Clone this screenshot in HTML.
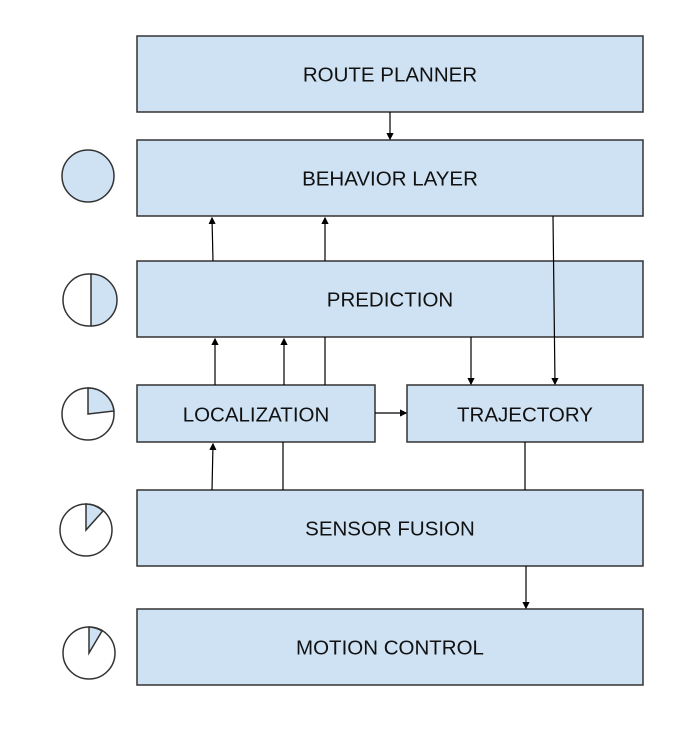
<!DOCTYPE html>
<html><head><meta charset="utf-8"><style>
body{margin:0;background:#fff}
svg text{font-family:"Liberation Sans",Arial,sans-serif;font-size:20.5px;fill:#111;text-anchor:middle;dominant-baseline:central}
</style></head><body>
<svg width="696" height="734" viewBox="0 0 696 734" xmlns="http://www.w3.org/2000/svg">
<defs>
<marker id="d" markerWidth="6" markerHeight="6" refX="5" refY="3" orient="auto" viewBox="0 0 6 6"><path d="M0,0 L6,3 L0,6 z" fill="#000"/></marker></defs>
<g fill="#cfe2f3" stroke="#333" stroke-width="1.5">
<rect x="137" y="36" width="506" height="76"/>
<rect x="137" y="140" width="506" height="76"/>
<rect x="137" y="261" width="506" height="76"/>
<rect x="137" y="385" width="238" height="57"/>
<rect x="407" y="385" width="236" height="57"/>
<rect x="137" y="490" width="506" height="76"/>
<rect x="137" y="609" width="506" height="76"/>
</g>
<text x="390" y="75">ROUTE PLANNER</text>
<text x="390" y="179">BEHAVIOR LAYER</text>
<text x="390" y="300">PREDICTION</text>
<text x="256" y="415">LOCALIZATION</text>
<text x="525" y="415">TRAJECTORY</text>
<text x="390" y="529">SENSOR FUSION</text>
<text x="390" y="648">MOTION CONTROL</text>
<g stroke="#000" stroke-width="1.2" fill="none">
<line x1="390" y1="112" x2="390" y2="139" marker-end="url(#d)"/>
<line x1="213" y1="261" x2="212" y2="218" marker-end="url(#d)"/>
<line x1="325" y1="261" x2="325" y2="218" marker-end="url(#d)"/>
<line x1="553" y1="216" x2="555" y2="384" marker-end="url(#d)"/>
<line x1="471" y1="337" x2="471" y2="384" marker-end="url(#d)"/>
<line x1="215" y1="385" x2="215" y2="339" marker-end="url(#d)"/>
<line x1="284" y1="385" x2="284" y2="339" marker-end="url(#d)"/>
<line x1="325" y1="385" x2="325" y2="337"/>
<line x1="375" y1="413" x2="406" y2="413" marker-end="url(#d)"/>
<line x1="212" y1="490" x2="213" y2="444" marker-end="url(#d)"/>
<line x1="283" y1="490" x2="283" y2="442"/>
<line x1="525" y1="442" x2="525" y2="490"/>
<line x1="526" y1="566" x2="526" y2="608" marker-end="url(#d)"/>
</g>
<g stroke="#333" stroke-width="1.5">
<circle cx="88" cy="176" r="26" fill="#cfe2f3"/>
<circle cx="89" cy="300" r="26" fill="#fff"/>
<path d="M91,274 A26,26 0 0 1 91,326 Z" fill="#cfe2f3"/>
<circle cx="88" cy="414" r="26" fill="#fff"/>
<path d="M88,414 L88,388 A26,26 0 0 1 114,411 Z" fill="#cfe2f3"/>
<circle cx="86" cy="530" r="26" fill="#fff"/>
<path d="M86,530 L86,504 A26,26 0 0 1 103,511 Z" fill="#cfe2f3"/>
<circle cx="89" cy="653" r="26" fill="#fff"/>
<path d="M89,653 L89,627 A26,26 0 0 1 102,631 Z" fill="#cfe2f3"/>
</g>
</svg>
</body></html>
